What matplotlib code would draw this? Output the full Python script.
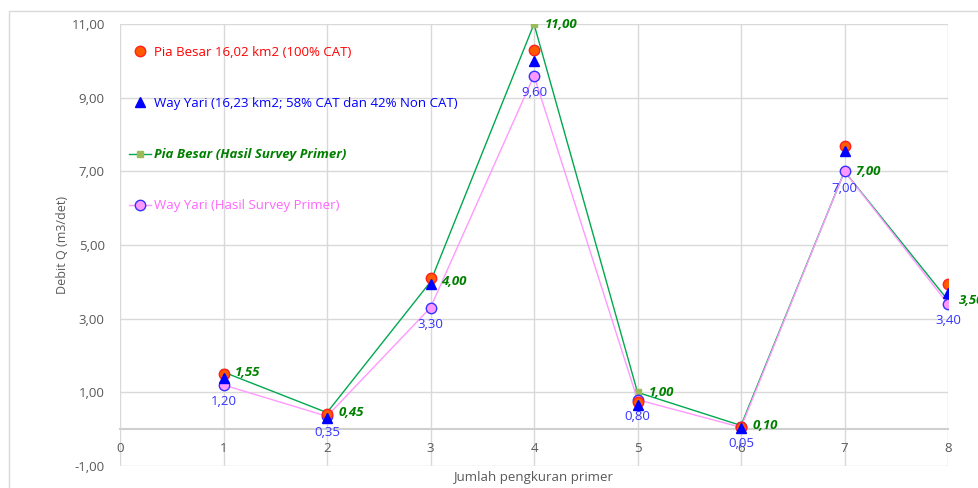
import matplotlib.pyplot as plt
from matplotlib.patches import Rectangle

plt.rcParams['font.family'] = ['Open Sans', 'DejaVu Sans']

# Data
pengukuran = [1, 2, 3, 4, 5, 6, 7, 8]
pia_besar = [1.50, 0.40, 4.10, 10.30, 0.75, 0.06, 7.70, 3.93]
way_yari = [1.40, 0.30, 3.95, 10.00, 0.65, 0.03, 7.55, 3.70]
pia_survey = [1.55, 0.45, 4.00, 11.00, 1.00, 0.10, 7.00, 3.50]
yari_survey = [1.20, 0.35, 3.30, 9.60, 0.80, 0.05, 7.00, 3.40]

y_ticks = [-1, 1, 3, 5, 7, 9, 11]
x_ticks = [0, 1, 2, 3, 4, 5, 6, 7, 8]


def fmt(v):
    return f"{v:.2f}".replace(".", ",")


fig = plt.figure(figsize=(9.79, 4.88), dpi=100)
fig.patches.append(Rectangle((9 / 979, -0.01), 1.0, 1 - 11 / 488 + 0.01,
                             transform=fig.transFigure, fill=False,
                             edgecolor="#d9d9d9", linewidth=1))
ax = fig.add_axes([120 / 979, 1 - 466 / 488, 828 / 979, 442 / 488])

ax.plot(pengukuran, pia_survey, color="#00a84f", lw=1, marker="s", ms=5,
        mfc="#9bbb59", mec="#9bbb59", label="Pia Besar (Hasil Survey Primer)", zorder=3)
ax.plot(pengukuran, yari_survey, color="#ff99ff", lw=1, marker="o", ms=7.5,
        mfc="#ff99ff", mec="#3333ff", mew=1, label="Way Yari (Hasil Survey Primer)", zorder=3)
ax.plot(pengukuran, pia_besar, ls="none", marker="o", ms=7.5, mfc="#ff5a00",
        mec="#ff2020", mew=1, label="Pia Besar 16,02 km2 (100% CAT)", zorder=4)
ax.plot(pengukuran, way_yari, ls="none", marker="^", ms=7, mfc="#0000ff",
        mec="#0000ff", label="Way Yari (16,23 km2; 58% CAT dan 42% Non CAT)", zorder=5)

for x, v in zip(pengukuran, pia_survey):
    ax.annotate(fmt(v), (x, v), xytext=(8, 0), textcoords="offset points",
                ha="left", va="center", color="#008000", fontsize=9.5,
                fontweight="bold", fontstyle="italic", zorder=6, annotation_clip=False)
for x, v in zip(pengukuran, yari_survey):
    ax.annotate(fmt(v), (x, v), xytext=(0, -12), textcoords="offset points",
                ha="center", va="center", color="#3333ff", fontsize=9.5, zorder=6)

ax.set_xlim(0, 8)
ax.set_ylim(-1, 11)
ax.set_xticks(x_ticks)
ax.set_yticks(y_ticks)
ax.set_yticklabels([fmt(v) for v in y_ticks])
ax.grid(True, color="#d9d9d9", lw=1)
ax.set_axisbelow(True)
for s in ["top", "right", "left"]:
    ax.spines[s].set_visible(False)
ax.spines["bottom"].set_position(("data", 0))
ax.spines["bottom"].set_color("#d0d0d0")
ax.spines["bottom"].set_linewidth(1.5)
ax.tick_params(length=0, labelsize=9.5, labelcolor="#595959")
ax.tick_params(axis="x", pad=9)
ax.tick_params(axis="y", pad=11)

ax.set_ylabel("Debit Q (m3/det)", fontsize=9, color="#595959", labelpad=2)
fig.text(533 / 979, 1 - 478 / 488, "Jumlah pengkuran primer", ha="center",
         va="center", fontsize=9.5, color="#595959")

handles, labels = ax.get_legend_handles_labels()
order = [2, 3, 0, 1]
leg = ax.legend([handles[i] for i in order], [labels[i] for i in order],
                loc="upper left", bbox_to_anchor=(-0.003, 0.978), frameon=False,
                fontsize=9.5, labelspacing=2.9, handlelength=1.6,
                handletextpad=0.3, borderaxespad=0.5)
colors = ["#ff0000", "#0000ff", "#008000", "#ff66ff"]
for t, c in zip(leg.get_texts(), colors):
    t.set_color(c)
leg.get_texts()[2].set_fontweight("bold")
leg.get_texts()[2].set_fontstyle("italic")

fig.savefig("out.png", dpi=100)
